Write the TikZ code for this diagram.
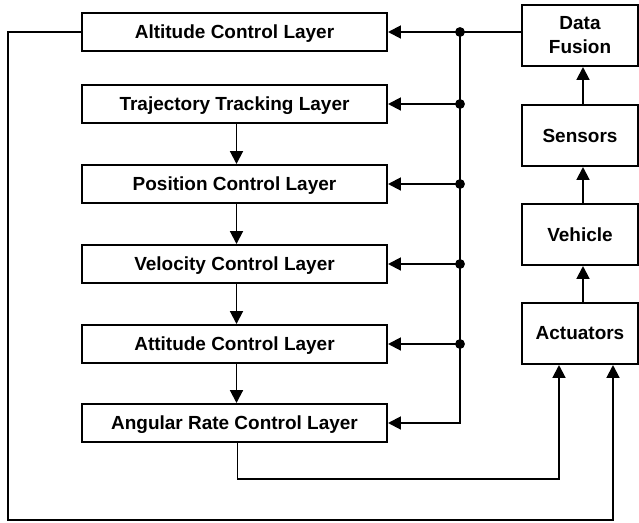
\documentclass[tikz,border=0pt]{standalone}
\usepackage{fontspec}
\setmainfont{Liberation Sans}
\usetikzlibrary{arrows.meta}

\begin{document}
\begin{tikzpicture}[x=0.03cm,y=-0.03cm,line width=1.7pt,
  every node/.style={font=\bfseries\fontsize{16.2}{20.5}\selectfont},
  layer/.style={draw,minimum width=9.15cm,minimum height=1.14cm,inner sep=0pt,
    text height=11.6pt,text depth=0pt},
  block/.style={draw,minimum width=3.48cm,minimum height=1.83cm,inner sep=0pt,align=center},
  arr/.style={-{Triangle[length=11pt,width=11pt]}}]
% canvas (pixel units)
\useasboundingbox (0,0) rectangle (639,522);
% control layers (left column)
\node[layer] (alt)  at (234.5,32)  {Altitude Control Layer};
\node[layer] (traj) at (234.5,104) {Trajectory Tracking Layer};
\node[layer] (pos)  at (234.5,184) {Position Control Layer};
\node[layer] (vel)  at (234.5,264) {Velocity Control Layer};
\node[layer] (att)  at (234.5,344) {Attitude Control Layer};
\node[layer] (ang)  at (234.5,423) {Angular Rate Control Layer};
% plant side (right column)
\node[block] (fusion) at (580,35.5)  {Data\\Fusion};
\node[block] (sens)   at (580,135.5) {Sensors};
\node[block] (veh)    at (580,234.5) {Vehicle};
\node[block] (act)    at (580,333.5) {Actuators};
% routing points
\coordinate (bus)  at (460,0);
\coordinate (left) at (8,0);
\coordinate (in1)  at (559,0);
\coordinate (in2)  at (613,0);
\coordinate (low)  at (0,479);
\coordinate (lowest) at (0,520);
% cascade
\draw[arr] ([xshift=0.06cm]traj.south) -- ([xshift=0.06cm]pos.north);
\draw[arr] ([xshift=0.06cm]pos.south) -- ([xshift=0.06cm]vel.north);
\draw[arr] ([xshift=0.06cm]vel.south) -- ([xshift=0.06cm]att.north);
\draw[arr] ([xshift=0.06cm]att.south) -- ([xshift=0.06cm]ang.north);
% sensing chain
\draw[arr] ([xshift=0.09cm]act.north) -- ([xshift=0.09cm]veh.south);
\draw[arr] ([xshift=0.09cm]veh.north) -- ([xshift=0.09cm]sens.south);
\draw[arr] ([xshift=0.09cm]sens.north) -- ([xshift=0.09cm]fusion.south);
% feedback bus
\draw[arr] (fusion.west |- alt.east) -- (alt.east);
\draw[arr] (bus |- alt.east) |- (ang.east);
\foreach \n in {traj,pos,vel,att} \draw[arr] (bus |- \n.east) -- (\n.east);
\foreach \n in {alt,traj,pos,vel,att} \fill (bus |- \n.east) circle (4.2pt);
% commands to actuators
\draw[arr] ([xshift=0.09cm]ang.south) |- (low -| in1) -- (in1 |- act.south);
\draw[arr] (alt.west) -- (left |- alt.west) |- (lowest -| in2) -- (in2 |- act.south);
\end{tikzpicture}
\end{document}
